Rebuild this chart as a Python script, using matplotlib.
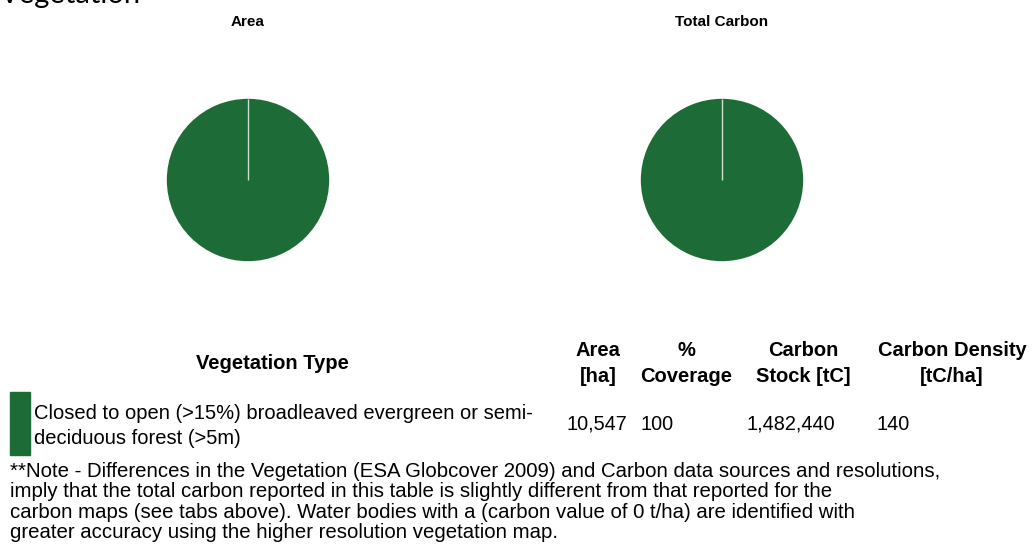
import matplotlib.pyplot as plt
import numpy as np

# table values
veg_types = ["Closed to open (>15%) broadleaved evergreen or semi-\ndeciduous forest (>5m)"]
veg_colors = ["#1d6b36"]
area_ha = [10547]
coverage_pct = [100]
carbon_stock = [1482440]
carbon_density = [140]

col_headers = ["Area\n[ha]", "%\nCoverage", "Carbon\nStock [tC]", "Carbon Density\n[tC/ha]"]

note = ("**Note - Differences in the Vegetation (ESA Globcover 2009) and Carbon data sources and resolutions,\n"
        "imply that the total carbon reported in this table is slightly different from that reported for the\n"
        "carbon maps (see tabs above). Water bodies with a (carbon value of 0 t/ha) are identified with\n"
        "greater accuracy using the higher resolution vegetation map.")

W, H = 1032, 556
fig = plt.figure(figsize=(W / 100, H / 100), dpi=100)
fig.patch.set_facecolor("white")
FONT = "Liberation Sans"
FS = 14.5


def px(x, y):
    return x / W, 1 - y / H


def txt(x, y, s, **kw):
    kw.setdefault("family", FONT)
    kw.setdefault("va", "baseline")
    fig.text(*px(x, y), s, **kw)


def pie_axes(cx, cy, r):
    return fig.add_axes([(cx - r) / W, 1 - (cy + r) / H, 2 * r / W, 2 * r / H])


# page heading, cut off by the top edge
txt(0, 3, "Vegetation", family="Lato", fontsize=21)

# pies
for cx, title, vals in [(248, "Area", area_ha), (722, "Total Carbon", carbon_stock)]:
    ax = pie_axes(cx, 180, 82)
    wedges, _ = ax.pie(vals, colors=veg_colors, startangle=90, counterclock=False, radius=1,
                       wedgeprops=dict(edgecolor="none"))
    # slice boundary line from the centre
    for w in wedges:
        a = np.deg2rad(w.theta2)
        cxw, cyw = w.center
        ax.plot([cxw, cxw + w.r * np.cos(a)], [cyw, cyw + w.r * np.sin(a)],
                color="#cfe0d3", lw=1.0, solid_capstyle="butt")
    ax.set_xlim(-1.01, 1.01)
    ax.set_ylim(-1.01, 1.01)
    ax.axis("off")
    txt(cx, 26, title, fontsize=11, fontweight="bold", ha="center")

# table header
txt(272, 369, "Vegetation Type", fontsize=FS, fontweight="bold", ha="center")
header_x = [598, 686, 803, 952]
for x, h in zip(header_x, col_headers):
    l1, l2 = h.split("\n")
    txt(x, 356, l1, fontsize=FS, fontweight="bold", ha="center")
    txt(x, 382, l2, fontsize=FS, fontweight="bold", ha="center")

# table rows
value_x = [567, 640, 747, 877]
for i, name in enumerate(veg_types):
    y0 = 419 + i * 60
    fig.patches.append(plt.Rectangle(px(10, y0 + 36), 20 / W, 63 / H, color=veg_colors[i],
                                     transform=fig.transFigure, figure=fig))
    l1, l2 = name.split("\n")
    txt(34, y0, l1, fontsize=FS)
    txt(34, y0 + 25, l2, fontsize=FS)
    vals = [f"{area_ha[i]:,}", f"{coverage_pct[i]}", f"{carbon_stock[i]:,}", f"{carbon_density[i]}"]
    for x, v in zip(value_x, vals):
        txt(x, y0 + 11, v, fontsize=14.3)

for j, line in enumerate(note.split("\n")):
    txt(10, 477 + j * 20.4, line, fontsize=14.7)

fig.savefig("out.png", dpi=100, facecolor="white")
